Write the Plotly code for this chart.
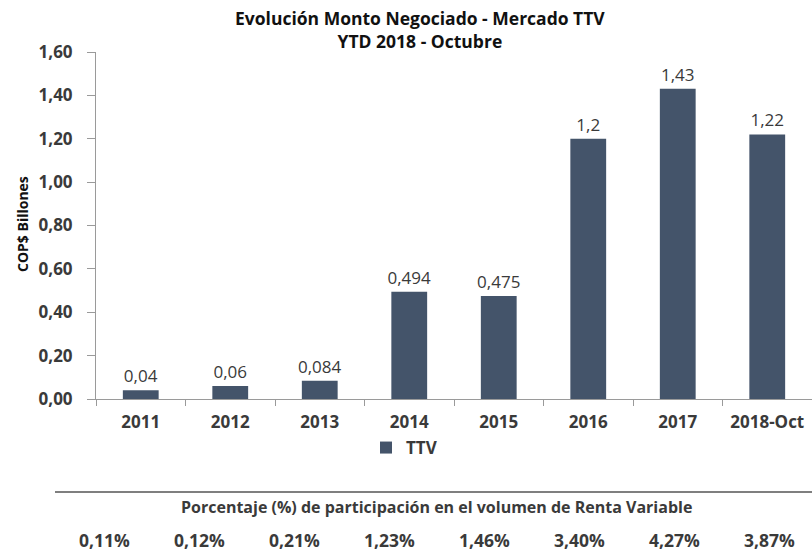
import plotly.graph_objects as go

categories = ["2011", "2012", "2013", "2014", "2015", "2016", "2017", "2018-Oct"]
ttv_values = [0.04, 0.06, 0.084, 0.494, 0.475, 1.2, 1.43, 1.22]
share_labels = ["0,11%", "0,12%", "0,21%", "1,23%", "1,46%", "3,40%", "4,27%", "3,87%"]
y_ticks = [0, 0.2, 0.4, 0.6, 0.8, 1.0, 1.2, 1.4, 1.6]
title_text = "Evolución Monto Negociado - Mercado TTV<br>YTD 2018 - Octubre"

W, H = 812, 552
L, R, T, B = 96, 0, 52, 153
PW, PH = W - L - R, H - T - B

def xp(px):
    return (px - L) / PW

def yp(py):
    return (H - B - py) / PH

FONT = "Open Sans"
BAR = "#44546A"
TXT = "#3a3a3a"

fig = go.Figure()
fig.add_trace(go.Bar(
    x=categories, y=ttv_values, name="TTV",
    marker=dict(color=BAR, line=dict(width=0)),
    width=0.4,
    texttemplate="%{y:.3~f}", textposition="outside", constraintext="none",
    textfont=dict(family=FONT, size=17, color=TXT),
    cliponaxis=False,
))

annotations = [
    dict(text=title_text, xref="paper", yref="paper", x=xp(420), y=yp(29.5),
         showarrow=False, xanchor="center", yanchor="middle",
         font=dict(family=FONT, size=17.5, color="#111111", weight="bold")),
    dict(text="COP$ Billones", xref="paper", yref="paper", x=xp(22), y=yp(224),
         textangle=-90, showarrow=False, xanchor="center", yanchor="middle",
         font=dict(family=FONT, size=14, color="#111111", weight="bold")),
    dict(text="Porcentaje (%) de participación en el volumen de Renta Variable",
         xref="paper", yref="paper", x=xp(436), y=yp(507), showarrow=False,
         xanchor="center", yanchor="middle",
         font=dict(family=FONT, size=16, color=TXT, weight="bold")),
]
for i, lab in enumerate(share_labels):
    annotations.append(dict(text=lab, xref="paper", yref="paper",
                            x=xp(104 + 95 * i), y=yp(540), showarrow=False,
                            xanchor="center", yanchor="middle",
                            font=dict(family=FONT, size=17.5, color=TXT, weight="bold")))

fig.update_layout(
    width=W, height=H,
    margin=dict(l=L, r=R, t=T, b=B, autoexpand=False),
    paper_bgcolor="white", plot_bgcolor="white",
    separators=",.",
    font=dict(family=FONT, color=TXT),
    xaxis=dict(type="category", range=[-0.5, 7.5], showgrid=False,
               showline=True, linecolor="#9a9a9a", linewidth=1,
               ticks="outside", tickson="boundaries", ticklen=6, tickcolor="#9a9a9a",
               tickfont=dict(family=FONT, size=17, color=TXT, weight="bold"),
               ticklabelstandoff=8),
    yaxis=dict(range=[0, 1.6], tickvals=y_ticks, tickformat=".2f", showgrid=False,
               zeroline=False, showline=True, linecolor="#9a9a9a", linewidth=1,
               ticks="outside", ticklen=8, tickcolor="#9a9a9a",
               tickfont=dict(family=FONT, size=17, color=TXT, weight="bold"),
               ticklabelstandoff=11),
    showlegend=True,
    legend=dict(orientation="h", x=xp(366), y=yp(448), xanchor="left", yanchor="middle",
                font=dict(family=FONT, size=17, color=TXT, weight="bold"),
                itemwidth=30, bgcolor="rgba(0,0,0,0)"),
    annotations=annotations,
    shapes=[dict(type="line", xref="paper", yref="paper", x0=xp(55), x1=1.0,
                 y0=yp(492), y1=yp(492), line=dict(color="#7f7f7f", width=2))],
    bargap=0.6,
)

fig.write_html("out.html", config={"displayModeBar": False},
               post_script="document.body.style.margin='0';")
